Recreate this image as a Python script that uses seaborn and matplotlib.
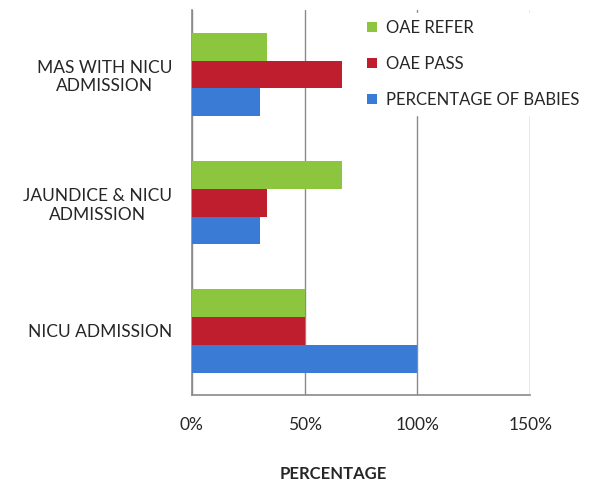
import matplotlib
matplotlib.use("Agg")
import matplotlib.pyplot as plt
import seaborn as sns
import pandas as pd
from matplotlib.ticker import PercentFormatter

categories = ["MAS WITH NICU\nADMISSION", "JAUNDICE & NICU\nADMISSION", "NICU ADMISSION"]
series = ["OAE REFER", "OAE PASS", "PERCENTAGE OF BABIES"]
oae_refer = [33.3, 66.7, 50]
oae_pass = [66.7, 33.3, 50]
pct_babies = [30, 30, 100]
colors = ["#8CC63F", "#BE1E2D", "#3A7BD5"]
x_ticks = [0, 50, 100, 150]

rows = []
for s, vals in zip(series, [oae_refer, oae_pass, pct_babies]):
    for c, v in zip(categories, vals):
        rows.append({"category": c, "series": s, "value": v})
df = pd.DataFrame(rows)

sns.set_theme(style="white")
plt.rcParams["font.family"] = ["Lato", "DejaVu Sans"]

fig = plt.figure(figsize=(6.13, 4.9), dpi=100)
ax = fig.add_axes([0.313, 0.194, 0.552, 0.785])

sns.barplot(data=df, x="value", y="category", hue="series", order=categories,
            hue_order=series, palette=colors, orient="h", width=0.65,
            saturation=1, ax=ax, errorbar=None, zorder=3, linewidth=0)

ax.set_xlim(0, 150)
ax.set_xticks(x_ticks)
ax.xaxis.set_major_formatter(PercentFormatter(decimals=0))
ax.grid(axis="x", color="#8a8a8a", linewidth=1, zorder=0)
ax.set_axisbelow(True)
for sp in ["top", "right"]:
    ax.spines[sp].set_visible(False)
for sp in ["left", "bottom"]:
    ax.spines[sp].set_color("#8a8a8a")
    ax.spines[sp].set_linewidth(1.2)

ax.set_ylim(2.5, -0.5)
ax.set_yticks([0, 1, 2])
ax.set_yticklabels(categories, fontsize=12.5, color="#262626", multialignment="center")
ax.set_yticks([-0.5, 0.5, 1.5, 2.5], minor=True)
ax.tick_params(axis="y", which="major", length=0, pad=14)
ax.tick_params(axis="y", which="minor", length=4, color="#8a8a8a", direction="out")
ax.tick_params(axis="x", which="major", length=8, color="#8a8a8a", direction="inout",
               labelsize=12.5, labelcolor="#262626", pad=12)

ax.set_ylabel("")
ax.set_xlabel("PERCENTAGE", fontsize=12, fontweight="bold", color="#262626")
ax.xaxis.set_label_coords(0.417, -0.185)

leg = ax.legend(loc="upper left", bbox_to_anchor=(0.575, 0.99), bbox_transform=fig.transFigure,
                frameon=True, fontsize=12, handlelength=0.6, handleheight=0.6,
                handletextpad=0.5, labelspacing=1.2, borderpad=0.4)
leg.get_frame().set_facecolor("white")
leg.get_frame().set_edgecolor("white")
leg.get_frame().set_alpha(1)
leg.set_zorder(5)
for t in leg.get_texts():
    t.set_color("#262626")

fig.savefig("out.png", dpi=100)
